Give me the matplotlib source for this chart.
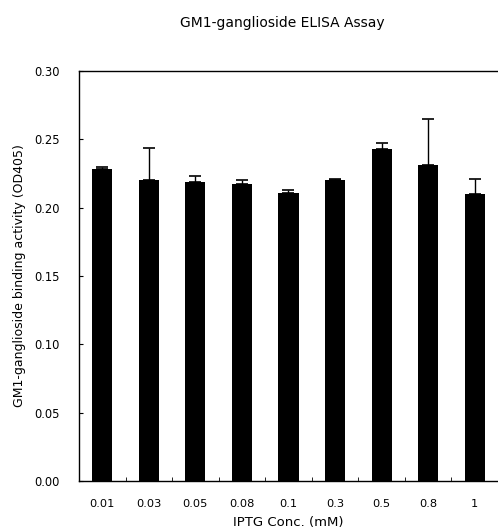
import numpy as np
import matplotlib
matplotlib.use('Agg')
import matplotlib.pyplot as plt

# IPTG-pitoisuudet ja mitatut OD405-arvot
conc_labels = ['0.01', '0.03', '0.05', '0.08', '0.1', '0.3', '0.5', '0.8', '1']
od405 = [0.228, 0.220, 0.219, 0.217, 0.211, 0.220, 0.243, 0.231, 0.210]
od405_err = [0.002, 0.024, 0.004, 0.003, 0.002, 0.001, 0.004, 0.034, 0.011]
y_ticks = [0.00, 0.05, 0.10, 0.15, 0.20, 0.25, 0.30]

plt.rcParams['font.family'] = ['DejaVu Sans']

fig = plt.figure(figsize=(4.98, 5.32), dpi=100)
ax = fig.add_axes([0.1586, 0.0959, 0.8414, 0.7707])

x = np.arange(len(conc_labels))
ax.bar(x, od405, width=0.43, color='black', zorder=2)
ax.errorbar(x, od405, yerr=[np.zeros(len(od405)), od405_err], fmt='none',
            ecolor='black', elinewidth=1.0, capsize=4.5, capthick=1.2, zorder=3)

ax.set_xlim(-0.5, len(conc_labels) - 0.5)
ax.set_ylim(0, 0.30)

# Pääpiirrot luokkien kohdalla ilman viivaa, väliviivat luokkien välissä
ax.set_xticks(x)
ax.set_xticklabels(conc_labels, fontsize=8.2)
ax.tick_params(axis='x', length=0, pad=13)
ax.set_xticks(x[:-1] + 0.5, minor=True)
ax.tick_params(axis='x', which='minor', direction='in', length=3)

ax.set_yticks(y_ticks)
ax.set_yticklabels(['%.2f' % v for v in y_ticks], fontsize=8.3)
ax.tick_params(axis='y', direction='in', length=3, pad=14)

ax.spines['right'].set_visible(False)
for s in ['left', 'bottom', 'top']:
    ax.spines[s].set_linewidth(1.0)

ax.set_xlabel('IPTG Conc. (mM)', fontsize=9.5, labelpad=5)
ax.set_ylabel('GM1-ganglioside binding activity (OD405)', fontsize=9, labelpad=6)
fig.text(0.566, 0.957, 'GM1-ganglioside ELISA Assay', ha='center', va='center', fontsize=10)

fig.savefig('out.png', dpi=100)
